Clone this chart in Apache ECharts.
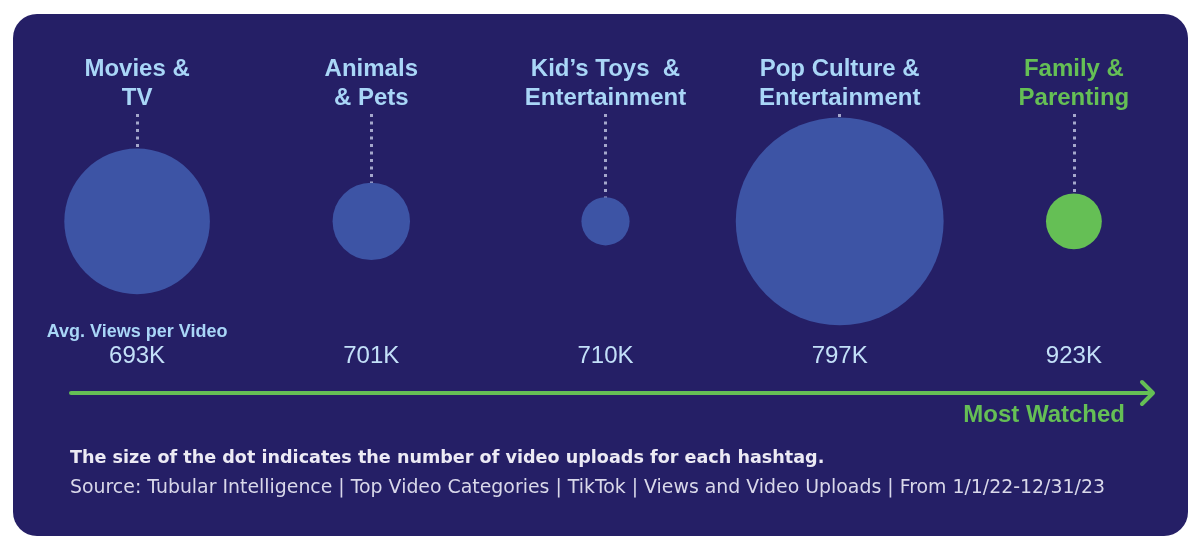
<!DOCTYPE html>
<html><head><meta charset="utf-8">
<script src="https://cdn.jsdelivr.net/npm/echarts@6/dist/echarts.min.js"></script>
<style>html,body{margin:0;padding:0;background:#fff}#c{width:1200px;height:551px}</style>
</head><body><div id="c"></div>
<script>
// ---- data ----
const categories = ['Movies &\nTV', 'Animals\n& Pets', 'Kid\u2019s Toys  &\nEntertainment', 'Pop Culture &\nEntertainment', 'Family &\nParenting'];
const avgViewsK = [693, 701, 710, 797, 923];          // avg. views per video (thousands)
const uploads = [5300, 1500, 580, 10800, 780];          // relative number of video uploads
const highlighted = 'Family &\nParenting';
const viewsHeader = 'Avg. Views per Video';
const axisNote = 'Most Watched';
const footnote = 'The size of the dot indicates the number of video uploads for each hashtag.';
const source = 'Source: Tubular Intelligence | Top Video Categories | TikTok | Views and Video Uploads | From 1/1/22-12/31/23';

// ---- styles ----
const NAVY = '#251f66', BUBBLE = '#3d54a5', GREEN = '#65bf55', LABEL = '#a9d6f7', VALUE = '#c3e0f8';
const FONT = '"Liberation Sans", Arial, Helvetica, sans-serif';
const NOTE_FONT = '"DejaVu Sans", Verdana, sans-serif';

const chart = echarts.init(document.getElementById('c'), null, {renderer: 'canvas'});
const option = {
  animation: false,
  backgroundColor: '#ffffff',
  grid: {left: 20, right: 9, top: 114, bottom: 233},
  xAxis: [{
    type: 'category', position: 'top', gridIndex: 0,
    data: categories.map(c => c === highlighted ? {value: c, textStyle: {color: GREEN}} : c),
    axisLine: {show: false, onZero: false},
    axisTick: {show: true, alignWithLabel: true, inside: true, length: 107,
      lineStyle: {color: '#a4a7cb', width: 3, type: [3, 4.5], cap: 'butt'}},
    axisLabel: {interval: 0, margin: 1, color: LABEL, fontFamily: FONT, fontWeight: 'bold', fontSize: 24, lineHeight: 29}
  }, {
    type: 'category', position: 'bottom', gridIndex: 0,
    data: avgViewsK.map(v => v + 'K'),
    axisLine: {show: false, onZero: false}, axisTick: {show: false},
    axisLabel: {
      interval: 0, margin: 2,
      formatter: (v, i) => (i === 0 ? '{h|' + viewsHeader + '}' : '{h| }') + '\n{v|' + v + '}',
      rich: {
        h: {color: LABEL, fontFamily: FONT, fontWeight: 'bold', fontSize: 18, lineHeight: 24},
        v: {color: VALUE, fontFamily: FONT, fontSize: 24, lineHeight: 24}
      }
    }
  }],
  yAxis: {type: 'value', min: -0.9, max: 1, show: false},
  series: [{
    type: 'scatter',
    xAxisIndex: 0,
    z: 5,
    data: categories.map((c, i) => ({
      value: [i, 0, uploads[i]],
      itemStyle: {color: c === highlighted ? GREEN : BUBBLE, opacity: 1}
    })),
    symbolSize: d => 2 * Math.sqrt(d[2])
  }],
  graphic: [
    {type: 'rect', z: -10, shape: {x: 13, y: 14, width: 1175, height: 522, r: 24}, style: {fill: NAVY}},
    {type: 'line', z: 1, shape: {x1: 71, y1: 393, x2: 1152, y2: 393}, style: {stroke: GREEN, lineWidth: 4, lineCap: 'round'}},
    {type: 'polyline', z: 1, shape: {points: [[1142, 382], [1153, 393], [1142, 404]]}, style: {stroke: GREEN, lineWidth: 4, fill: null, lineCap: 'round', lineJoin: 'round'}},
    {type: 'text', z: 1, x: 1125, y: 415, style: {text: axisNote, fill: GREEN, font: 'bold 24px ' + FONT, textAlign: 'right', textVerticalAlign: 'middle'}},
    {type: 'text', z: 1, x: 70, y: 458, style: {text: footnote, fill: '#eceaf4', font: 'bold 17.6px ' + NOTE_FONT, textAlign: 'left', textVerticalAlign: 'middle'}},
    {type: 'text', z: 1, x: 70, y: 488, style: {text: source, fill: '#d9d8ea', font: '18.9px ' + NOTE_FONT, textAlign: 'left', textVerticalAlign: 'middle'}}
  ]
};
chart.setOption(option);
</script></body></html>
